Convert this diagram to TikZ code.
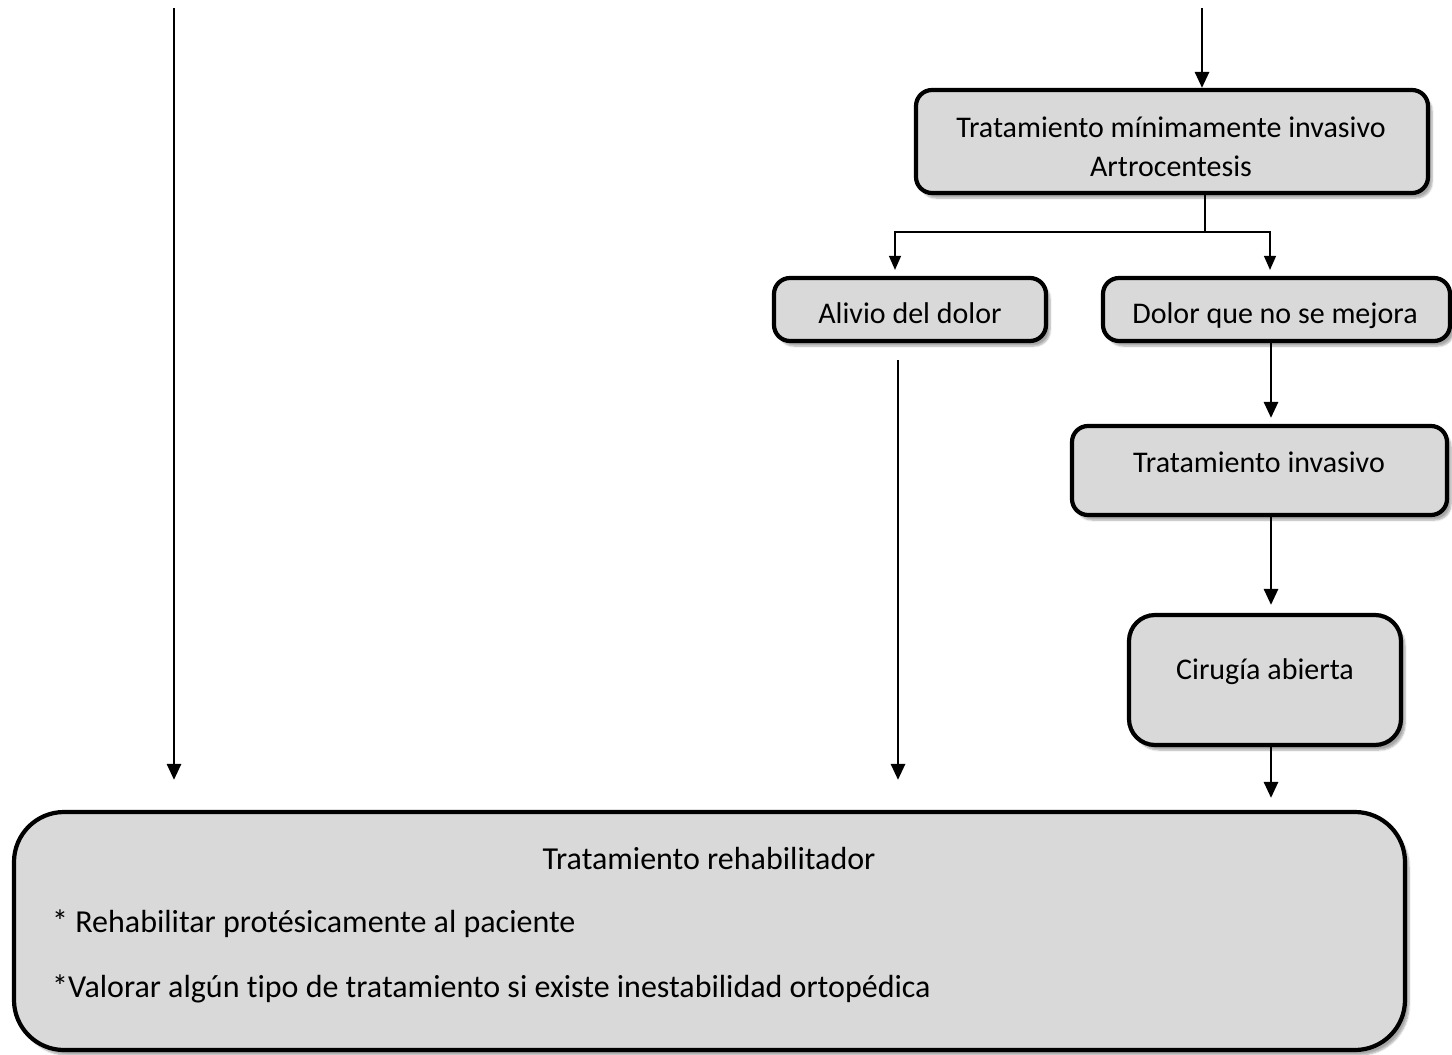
\documentclass[tikz,border=0pt]{standalone}
\usepackage{fontspec}
\setmainfont[Ligatures=NoCommon]{Carlito}
\usetikzlibrary{arrows.meta,shadows.blur,calc}
\definecolor{boxfill}{HTML}{D9D9D9}
\begin{document}
\begin{tikzpicture}[x=1pt,y=-1pt,
  box/.style={draw=black, line width=4.2pt, fill=boxfill, rounded corners=16pt,
    blur shadow={shadow xshift=4pt, shadow yshift=-5pt, shadow blur steps=6, shadow opacity=35},
    inner sep=0pt},
  txt/.style={font=\fontsize{30}{36}\selectfont, inner sep=0pt, anchor=base},
  bigtxt/.style={font=\fontsize{32}{38}\selectfont, inner sep=0pt, anchor=base},
  arr/.style={line width=2.8pt, -{Triangle[width=14pt,length=16pt]}},
  thinarr/.style={line width=1.3pt, -{Triangle[width=12pt,length=14pt]}},
  link/.style={line width=1.3pt}]
\useasboundingbox (0,0) rectangle (1452,1055);

% boxes
\node[box, minimum width=512pt, minimum height=103pt] (top) at (1172,141.5) {};
\node[box, minimum width=272pt, minimum height=63pt] (alivio) at (910,309.5) {};
\node[box, minimum width=347pt, minimum height=63pt] (dolor) at (1276.5,309.5) {};
\node[box, minimum width=375pt, minimum height=89pt] (tinv) at (1259.5,470.5) {};
\node[box, minimum width=272pt, minimum height=130pt, rounded corners=26pt] (cir) at (1265,680) {};
\node[box, minimum width=1391pt, minimum height=238pt, rounded corners=50pt] (rehab) at (709.5,931) {};

% texts
\node[txt] (t1) at (1171,137) {Tratamiento mínimamente invasivo};
\node[txt] (t2) at (1171,176) {Artrocentesis};
\node[txt] (t3) at (910,323) {Alivio del dolor};
\node[txt] (t4) at (1275,323) {Dolor que no se mejora};
\node[txt] (t5) at (1259,472) {Tratamiento invasivo};
\node[txt] (t6) at (1265,679) {Cirugía abierta};
\node[bigtxt] (t7) at (709,869) {Tratamiento rehabilitador};
\node[bigtxt, anchor=base west] (t8) at (52,932) {* Rehabilitar protésicamente al paciente};
\node[bigtxt, anchor=base west] (t9) at (52,997) {*Valorar algún tipo de tratamiento si existe inestabilidad ortopédica};

% connectors
\coordinate (src1) at (174,8);
\coordinate (src2) at (1202,8);
\coordinate (br) at (1205,232);
\coordinate (lc) at (895,0);
\coordinate (rc) at (1270,0);
\coordinate (col) at (1271,0);
\coordinate (ac) at (898,0);

\draw[arr] (src2) -- (src2 |- top.north);
\draw[arr, shorten >=30pt] (src1) -- (src1 |- rehab.north);
\draw[link] (top.south -| br) -- (br);
\draw[thinarr, shorten >=6pt] (br) -| (lc |- alivio.north);
\draw[thinarr, shorten >=6pt] (br) -| (rc |- dolor.north);
\draw[arr, shorten <=17pt, shorten >=30pt] (alivio.south -| ac) -- (ac |- rehab.north);
\draw[arr, shorten >=6pt] (dolor.south -| col) -- (col |- tinv.north);
\draw[arr, shorten >=8pt] (tinv.south -| col) -- (col |- cir.north);
\draw[arr, shorten >=12pt] (cir.south -| col) -- (col |- rehab.north);
\end{tikzpicture}
\end{document}
